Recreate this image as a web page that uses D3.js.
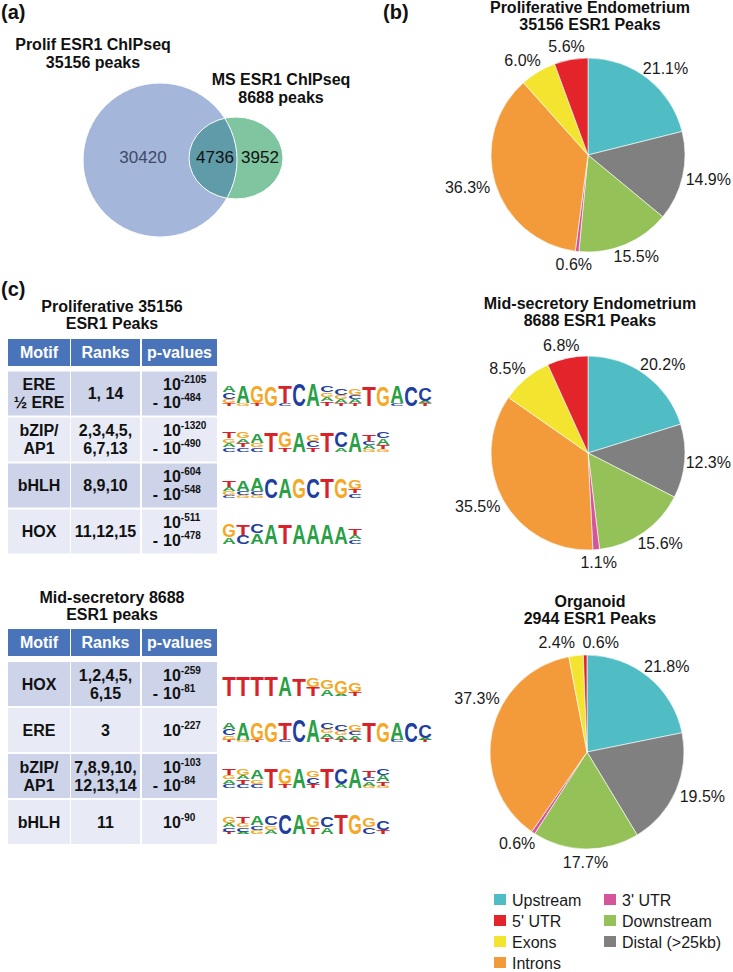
<!DOCTYPE html>
<html><head><meta charset="utf-8">
<script src="https://cdn.jsdelivr.net/npm/d3@7"></script>
<style>
body{margin:0;background:#fff}
svg{display:block}
text{font-family:Arial,"Liberation Sans",Helvetica,sans-serif}
</style>
</head><body>
<svg id="c" width="733" height="972"></svg>
<script>
// ---------------- DATA ----------------
const vennSets = ["Prolif ESR1 ChIPseq", "MS ESR1 ChIPseq"];
const vennTotals = ["35156 peaks", "8688 peaks"];
const vennCounts = [30420, 4736, 3952]; // Prolif only, shared, MS only

const categories = ["Upstream", "Distal (>25kb)", "Downstream", "3' UTR", "Introns", "Exons", "5' UTR"];
const legendOrder = ["Upstream", "5' UTR", "Exons", "Introns", "3' UTR", "Downstream", "Distal (>25kb)"];
const pieTitles = [["Proliferative Endometrium", "35156 ESR1 Peaks"], ["Mid-secretory Endometrium", "8688 ESR1 Peaks"], ["Organoid", "2944 ESR1 Peaks"]];
const prolifPct = [21.1, 14.9, 15.5, 0.6, 36.3, 6.0, 5.6];
const msPct = [20.2, 12.3, 15.6, 1.1, 35.5, 8.5, 6.8];
const organoidPct = [21.8, 19.5, 17.7, 0.6, 37.3, 2.4, 0.6];

const tableHeader = ["Motif", "Ranks", "p-values"];
const table1Title = ["Proliferative 35156", "ESR1 Peaks"];
const table1Motifs = [["ERE", "½ ERE"], ["bZIP/", "AP1"], ["bHLH"], ["HOX"]];
const table1Ranks = [["1, 14"], ["2,3,4,5,", "6,7,13"], ["8,9,10"], ["11,12,15"]];
const table1PExp = [["-2105", "-484"], ["-1320", "-490"], ["-604", "-548"], ["-511", "-478"]];
const table1Logos = [
  "A3C3G2T1 A8G1 G8T1 G9 T8C1 C10 A10 C3G2A2T2 C3G2A2T1 G3C2A2T1 T9 G9 A8C1 C9 C6A1T1",
  "T3G2A2C2 G3A2T2C2 A4G2C2 T9 G7T2 A9 G3C3T2 T9 C7A2 A9 T3C2A2G1 C3A3T2G1",
  "T3A2G2C1 A5C2G1 A6C2G1 C9 A9 G9 C9 T9 G9 G4T2C2",
  "G6A3 T5C4 C4A5 A9 T9 A9 A9 A9 A8 T3A2C2"
];

const table2Title = ["Mid-secretory 8688", "ESR1 peaks"];
const table2Motifs = [["HOX"], ["ERE"], ["bZIP/", "AP1"], ["bHLH"]];
const table2Ranks = [["1,2,4,5,", "6,15"], ["3"], ["7,8,9,10,", "12,13,14"], ["11"]];
const table2PExp = [["-259", "-81"], ["-227"], ["-103", "-84"], ["-90"]];
const table2Logos = [
  "T9 T9 T9 T9 A9 T8 G4T4 G4A3 G6A1 G4T2",
  "A3C3G2T1 A8G1 G8T1 G9 T8C1 C10 A10 C3G2A2T2 C3G2A2T1 G3C2A2T1 T9 G9 A8C1 C9 C6A1T1",
  "T3G2A2C2 G3A2T2C2 A4G2C2 T9 G7T2 A9 G3C3T2 T9 C7A2 A9 T3C2A2G1 C3A3T2G1",
  "G3A2C2T1 T3G2C2A1 A4C2G2 C4G2A2 C9 A9 G5T3 C5A3 T9 G9 G4C3 C4T2"
];

// ---------------- STYLE / LAYOUT ----------------
const W = 733;
const catColor = d3.scaleOrdinal()
  .domain(["Upstream", "5' UTR", "Exons", "Introns", "3' UTR", "Downstream", "Distal (>25kb)"])
  .range(["#4fbdc3", "#e3242b", "#f3e52f", "#f39a3b", "#d5559b", "#94c258", "#808080"]);
const baseColor = d3.scaleOrdinal().domain(["A", "C", "G", "T"]).range(["#2aa046", "#1f3f9e", "#f5a825", "#d7222a"]);

const svg = d3.select("#c");

function panelLabel(t, x, y) {
  svg.append("text").attr("x", x).attr("y", y).attr("font-size", 20).attr("font-weight", "bold").attr("fill", "#111").text(t);
}
panelLabel("(a)", 1, 19);
panelLabel("(b)", 383, 19);
panelLabel("(c)", 1, 296);

function boldLines(lines, cx, y0, step, size) {
  lines.forEach((l, i) => svg.append("text").attr("x", cx).attr("y", y0 + i * step)
    .attr("text-anchor", "middle").attr("font-size", size).attr("font-weight", "bold").attr("fill", "#111").text(l));
}

// ---------------- VENN ----------------
(function () {
  const big = {cx: 160, cy: 160, r: 77};
  const sm = {cx: 236, cy: 158, rx: 47, ry: 41};
  const defs = svg.append("defs");
  defs.append("clipPath").attr("id", "bigClip").append("circle").attr("cx", big.cx).attr("cy", big.cy).attr("r", big.r);
  const g = svg.append("g");
  g.append("circle").attr("cx", big.cx).attr("cy", big.cy).attr("r", big.r).attr("fill", "#a4b6da");
  g.append("ellipse").attr("cx", sm.cx).attr("cy", sm.cy).attr("rx", sm.rx).attr("ry", sm.ry).attr("fill", "#7fc5a0");
  g.append("ellipse").attr("cx", sm.cx).attr("cy", sm.cy).attr("rx", sm.rx).attr("ry", sm.ry).attr("fill", "#5f9ba8").attr("clip-path", "url(#bigClip)");
  g.append("circle").attr("cx", big.cx).attr("cy", big.cy).attr("r", big.r).attr("fill", "none").attr("stroke", "#fff").attr("stroke-width", 1);
  g.append("ellipse").attr("cx", sm.cx).attr("cy", sm.cy).attr("rx", sm.rx).attr("ry", sm.ry).attr("fill", "none").attr("stroke", "#fff").attr("stroke-width", 1);
  const pos = [[143, "#3e4b68"], [215, "#111"], [260, "#111"]];
  vennCounts.forEach((v, i) => g.append("text").attr("x", pos[i][0]).attr("y", 163).attr("text-anchor", "middle")
    .attr("font-size", 17).attr("fill", pos[i][1]).text(v));
  boldLines([vennSets[0], vennTotals[0]], 93, 50, 18, 16);
  boldLines([vennSets[1], vennTotals[1]], 281, 85, 18, 16);
})();

// ---------------- PIES ----------------
const pieData = [prolifPct, msPct, organoidPct];
const pieCenters = [[588, 155], [588, 453], [587, 752]];
const pieTitleY = [13, 309, 607];
const R = 97, LRX = 126, LRY = 110;
const labelAngleShift = {2: {4: 0.30}}; // radians, organoid introns label
const pie = d3.pie().sort(null).value(d => d.v).startAngle(0).endAngle(2 * Math.PI);
const arc = d3.arc().innerRadius(0).outerRadius(R);
pieData.forEach((vals, pi) => {
  const [cx, cy] = pieCenters[pi];
  boldLines(pieTitles[pi], 590, pieTitleY[pi], 17, 16);
  const data = categories.map((c, i) => ({c, v: vals[i]}));
  const arcs = pie(data);
  const g = svg.append("g").attr("transform", `translate(${cx},${cy})`);
  g.selectAll("path").data(arcs).join("path").attr("d", arc)
    .attr("fill", d => catColor(d.data.c)).attr("stroke", "#fff").attr("stroke-width", 0.6);
  const labs = arcs.map((d, i) => {
    let a = (d.startAngle + d.endAngle) / 2 + ((labelAngleShift[pi] || {})[i] || 0);
    return {x: Math.sin(a) * LRX, y: -Math.cos(a) * LRY, t: d.data.v.toFixed(1) + "%"};
  });
  // resolve overlaps
  for (let k = 0; k < 3; k++) {
    for (let i = 0; i < labs.length; i++) for (let j = i + 1; j < labs.length; j++) {
      const a = labs[i], b = labs[j];
      const dx = b.x - a.x, dy = b.y - a.y;
      if (Math.abs(dy) < 14 && Math.abs(dx) < 44) {
        const push = (44 - Math.abs(dx)) / 2 * (dx >= 0 ? 1 : -1);
        a.x -= push; b.x += push;
      }
    }
  }
  const texts = g.selectAll("text.pl").data(labs).join("text").attr("class", "pl")
    .attr("x", d => d.x).attr("y", d => d.y).attr("dy", "0.35em")
    .attr("text-anchor", "middle").attr("font-size", 16).attr("fill", "#1a1a1a").text(d => d.t);
  // keep labels inside the page on the right
  texts.each(function (d) {
    const half = this.getComputedTextLength() / 2;
    const maxX = W - 2 - cx - half;
    if (d.x > maxX) d3.select(this).attr("x", maxX);
  });
});

// legend
(function () {
  const colX = [494, 604];
  legendOrder.forEach((c, i) => {
    const col = i < 4 ? 0 : 1, row = i < 4 ? i : i - 4;
    const y = 900 + row * 21;
    svg.append("rect").attr("x", colX[col]).attr("y", y - 6).attr("width", 12).attr("height", 11).attr("fill", catColor(c));
    svg.append("text").attr("x", colX[col] + 18).attr("y", y + 6).attr("font-size", 16).attr("fill", "#1a1a1a").text(c);
  });
})();

// ---------------- TABLES & LOGOS ----------------
const colX = [8, 71, 142], colW = [62, 69, 75];
const LOGO_X = 222, LW = 14, UNIT = 2.2;

function drawLogo(str, x0, yb) {
  const g = svg.append("g");
  str.split(" ").forEach((posStr, pi) => {
    const letters = [...posStr.matchAll(/([ACGT])(\d+)/g)].map(m => [m[1], +m[2]]);
    let y = yb;
    for (let k = letters.length - 1; k >= 0; k--) {
      const [b, u] = letters[k];
      const h = u * UNIT;
      g.append("text").attr("x", 0).attr("y", 0).attr("font-size", 100).attr("font-weight", "bold")
        .attr("textLength", 72).attr("lengthAdjust", "spacingAndGlyphs")
        .attr("fill", baseColor(b))
        .attr("transform", `translate(${x0 + pi * LW + 0.2},${y}) scale(${(LW - 0.4) / 72},${h / 72})`)
        .text(b);
      y -= h;
    }
  });
}

function multiLine(lines, cx, cy, anchor) {
  const n = lines.length;
  lines.forEach((l, i) => {
    const base = cy + 5.75 + (i - (n - 1) / 2) * 18;
    svg.append("text").attr("x", cx).attr("y", base).attr("text-anchor", anchor || "middle")
      .attr("font-size", 16).attr("font-weight", "bold").attr("fill", "#111").text(l);
  });
}

function drawTable(title, titleY, headY, rowTop, motifs, ranks, pexp, logos) {
  boldLines(title, 112, titleY, 17, 16);
  tableHeader.forEach((h, i) => {
    svg.append("rect").attr("x", colX[i]).attr("y", headY).attr("width", colW[i]).attr("height", 27).attr("fill", "#4a74ba");
    svg.append("text").attr("x", colX[i] + colW[i] / 2).attr("y", headY + 19).attr("text-anchor", "middle")
      .attr("font-size", 16).attr("font-weight", "bold").attr("fill", "#fff").text(h);
  });
  motifs.forEach((m, r) => {
    const top = rowTop + r * 46, cy = top + 22;
    const fill = r % 2 === 0 ? "#cdd3e8" : "#e8ebf5";
    colX.forEach((x, i) => svg.append("rect").attr("x", x).attr("y", top).attr("width", colW[i]).attr("height", 44).attr("fill", fill));
    multiLine(m, colX[0] + colW[0] / 2, cy);
    multiLine(ranks[r], colX[1] + colW[1] / 2, cy);
    const ps = pexp[r], n = ps.length;
    ps.forEach((e, i) => {
      const base = cy + 5.75 + (i - (n - 1) / 2) * 18;
      const t = svg.append("text").attr("x", 163).attr("y", base).attr("font-size", 16).attr("font-weight", "bold").attr("fill", "#111");
      t.append("tspan").text("10");
      t.append("tspan").attr("font-size", 10).attr("dy", -7).text(e);
      if (i > 0) svg.append("text").attr("x", 158).attr("y", base).attr("text-anchor", "end")
        .attr("font-size", 16).attr("font-weight", "bold").attr("fill", "#111").text("-");
    });
    drawLogo(logos[r], LOGO_X, cy + 12);
  });
}

drawTable(table1Title, 312, 339, 371.5, table1Motifs, table1Ranks, table1PExp, table1Logos);
drawTable(table2Title, 603, 629, 662, table2Motifs, table2Ranks, table2PExp, table2Logos);
</script>
</body></html>
